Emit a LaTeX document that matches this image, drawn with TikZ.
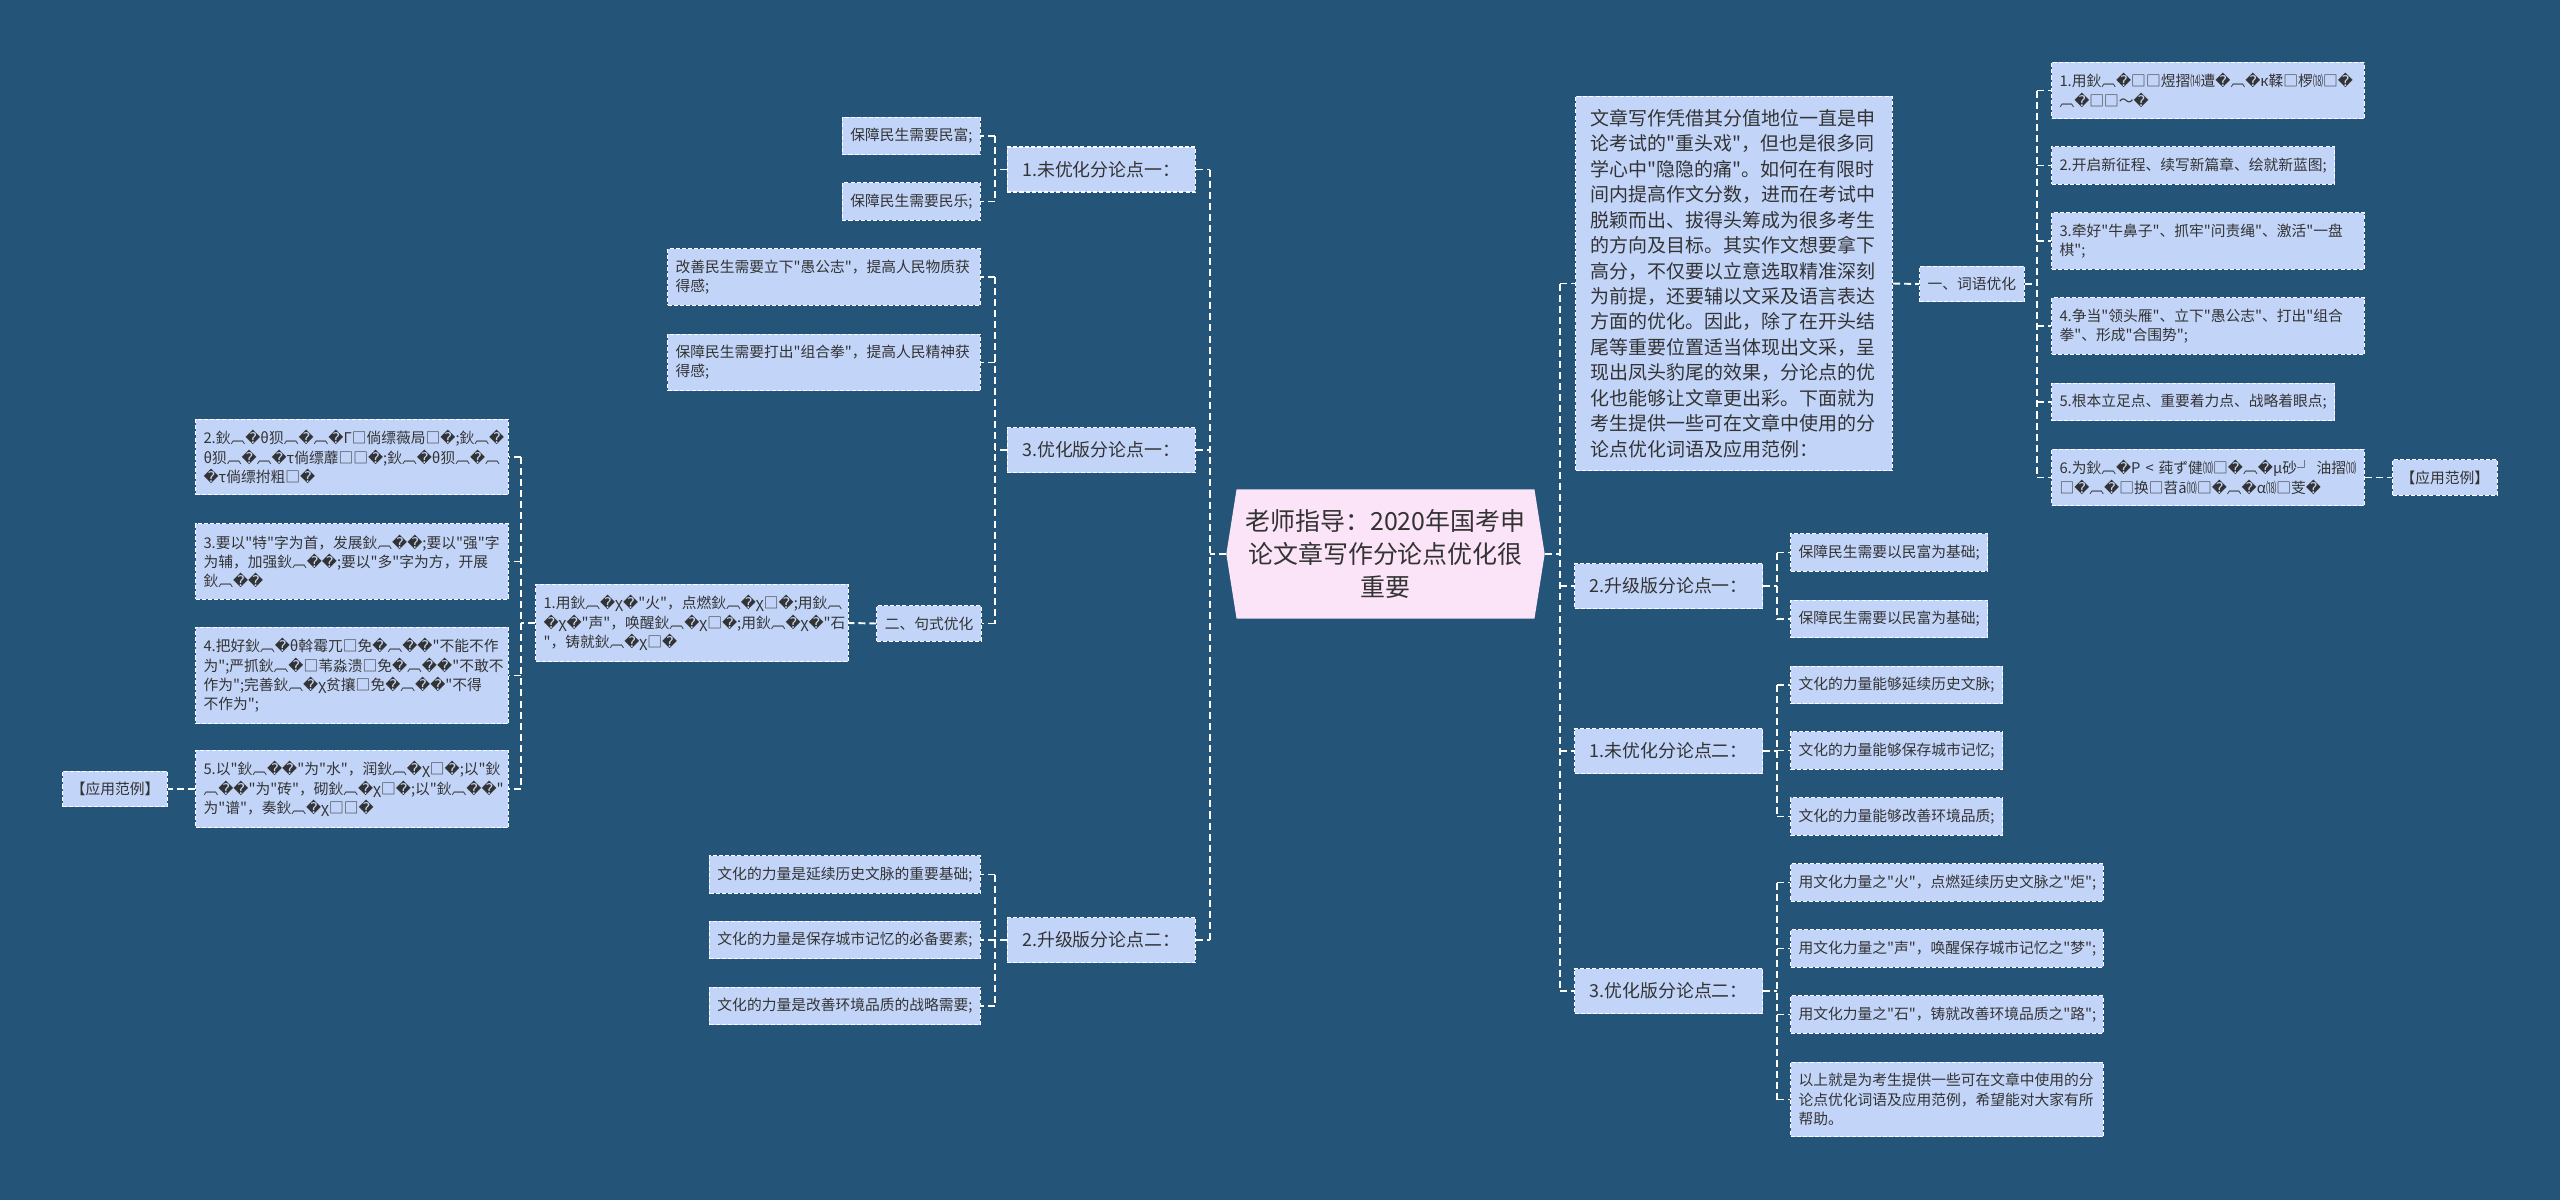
\documentclass[tikz,border=0pt]{standalone}
\usepackage{fontspec}
\usepackage{graphicx}
\newfontfamily\cjkfont{Noto Sans CJK SC}
\newfontfamily\symf{DejaVu Sans}
\usetikzlibrary{shapes.symbols}

\definecolor{bgblue}{HTML}{245579}
\definecolor{boxfill}{HTML}{C2D5F9}
\definecolor{rootfill}{HTML}{FCE4F8}
\definecolor{inktext}{HTML}{333333}

% garbled glyphs as printed in the map
\newcommand{\rp}{{\symf\symbol{"FFFD}}}
\newcommand{\mj}{鈥︹\rp}
\newcommand{\pn}[1]{\scalebox{0.7}[1]{#1}}

\begin{document}
\begin{tikzpicture}[x=0.02cm, y=-0.02cm,
    % Define styles for the boxes and links
    link/.style={draw=white, line width=1.1pt, dash pattern=on 4pt off 2.3pt},
    leaf/.style={draw=white, line width=0.6pt, dash pattern=on 2.3pt off 1.2pt,
        fill=boxfill, text=inktext, font=\cjkfont\fontsize{8.4pt}{11pt}\selectfont,
        inner xsep=0.16cm, inner ysep=0.22cm, align=left},
    leafwide/.style={leaf, text width=5.94cm},
    lvl/.style={leaf, font=\cjkfont\fontsize{10.2pt}{13pt}\selectfont, inner xsep=0.3cm, minimum height=0.9cm},
    parabox/.style={leaf, font=\cjkfont\fontsize{10.8pt}{14.5pt}\selectfont, text width=5.74cm,
        inner xsep=0.3cm, inner ysep=0.25cm},
    rootbox/.style={signal, signal to=west and east, signal pointer angle=162,
        fill=rootfill, text=inktext, font=\cjkfont\fontsize{14.2pt}{18.8pt}\selectfont,
        align=center, inner xsep=0.18cm, inner ysep=0.4cm}
]

    % --- BACKGROUND ---
    \fill[bgblue] (0,0) rectangle (2560,1200);
    \useasboundingbox (0,0) rectangle (2560,1200);

    % --- ROOT ---
    \node[rootbox] (root) at (1385.5,554) {老师指导：2020年国考申\\论文章写作分论点优化很\\重要};

    % --- RIGHT SIDE ---
    \node[parabox, anchor=west] (intro) at (1575,283.5) {文章写作凭借其分值地位一直是申\\论考试的"重头戏"，但也是很多同\\学心中"隐隐的痛"。如何在有限时\\间内提高作文分数，进而在考试中\\脱颖而出、拔得头筹成为很多考生\\的方向及目标。其实作文想要拿下\\高分，不仅要以立意选取精准深刻\\为前提，还要辅以文采及语言表达\\方面的优化。因此，除了在开头结\\尾等重要位置适当体现出文采，呈\\现出凤头豹尾的效果，分论点的优\\化也能够让文章更出彩。下面就为\\考生提供一些可在文章中使用的分\\论点优化词语及应用范例：};
    \node[leaf, anchor=west] (ciyu) at (1919,284) {一、词语优化};
    \node[leafwide, anchor=west] (r1) at (2051,90.5) {1.用\mj{}□□煜摺\pn{⒁}遭\rp{}︹\rp{}к鞣□椤\pn{⒅}□\rp{}\\︹\rp{}□□～\rp{}};
    \node[leaf, anchor=west] (r2) at (2051,165.5) {2.开启新征程、续写新篇章、绘就新蓝图;};
    \node[leafwide, anchor=west] (r3) at (2051,241) {3.牵好"牛鼻子"、抓牢"问责绳"、激活"一盘\\棋";};
    \node[leafwide, anchor=west] (r4) at (2051,326) {4.争当"领头雁"、立下"愚公志"、打出"组合\\拳"、形成"合围势";};
    \node[leaf, anchor=west] (r5) at (2051,402) {5.根本立足点、重要着力点、战略着眼点;};
    \node[leafwide, anchor=west] (r6) at (2051,477.5) {6.为\mj{}P~<~莼ず健\pn{⑽}□\rp{}︹\rp{}μ砂┘~油摺\pn{⑽}\\□\rp{}︹\rp{}□换□苕ā\pn{⑽}□\rp{}︹\rp{}α\pn{⒅}□芰\rp{}};
    \node[leaf, anchor=west] (fanliR) at (2392,477.5) {【应用范例】};

    \node[lvl, anchor=west] (up1) at (1574,586) {2.升级版分论点一：};
    \node[leaf, anchor=west] (up1a) at (1790,552.5) {保障民生需要以民富为基础;};
    \node[leaf, anchor=west] (up1b) at (1790,619) {保障民生需要以民富为基础;};

    \node[lvl, anchor=west] (raw2) at (1574,751) {1.未优化分论点二：};
    \node[leaf, anchor=west] (raw2a) at (1790,685) {文化的力量能够延续历史文脉;};
    \node[leaf, anchor=west] (raw2b) at (1790,750.5) {文化的力量能够保存城市记忆;};
    \node[leaf, anchor=west] (raw2c) at (1790,816.5) {文化的力量能够改善环境品质;};

    \node[lvl, anchor=west] (opt2) at (1574,991) {3.优化版分论点二：};
    \node[leafwide, anchor=west] (opt2a) at (1790,882.5) {用文化力量之"火"，点燃延续历史文脉之"炬";};
    \node[leafwide, anchor=west] (opt2b) at (1790,948.5) {用文化力量之"声"，唤醒保存城市记忆之"梦";};
    \node[leafwide, anchor=west] (opt2c) at (1790,1014.5) {用文化力量之"石"，铸就改善环境品质之"路";};
    \node[leafwide, anchor=west] (opt2d) at (1790,1099.5) {以上就是为考生提供一些可在文章中使用的分\\论点优化词语及应用范例，希望能对大家有所\\帮助。};

    % --- LEFT SIDE ---
    \node[lvl, anchor=east] (raw1) at (1196,169.5) {1.未优化分论点一：};
    \node[leaf, anchor=east] (raw1a) at (981,136) {保障民生需要民富;};
    \node[leaf, anchor=east] (raw1b) at (981,201.5) {保障民生需要民乐;};

    \node[lvl, anchor=east] (opt1) at (1196,450) {3.优化版分论点一：};
    \node[leafwide, anchor=east] (opt1a) at (981,277) {改善民生需要立下"愚公志"，提高人民物质获\\得感;};
    \node[leafwide, anchor=east] (opt1b) at (981,362.5) {保障民生需要打出"组合拳"，提高人民精神获\\得感;};
    \node[leaf, anchor=east] (jushi) at (982,623.5) {二、句式优化};
    \node[leafwide, anchor=east] (js1) at (849,623) {1.用\mj{}χ\rp{}"火"，点燃\mj{}χ□\rp{};用鈥︹\\\rp{}χ\rp{}"声"，唤醒\mj{}χ□\rp{};用\mj{}χ\rp{}"石\\"，铸就\mj{}χ□\rp{}};
    \node[leafwide, anchor=east] (js2) at (509,457) {2.\mj{}θ狈︹\rp{}︹\rp{}Г□倘缥薇局□\rp{};\mj{}\\θ狈︹\rp{}︹\rp{}τ倘缥蘼□□\rp{};\mj{}θ狈︹\rp{}︹\\\rp{}τ倘缥拊粗□\rp{}};
    \node[leafwide, anchor=east] (js3) at (509,561.5) {3.要以"特"字为首，发展\mj{}\rp{};要以"强"字\\为辅，加强\mj{}\rp{};要以"多"字为方，开展\\\mj{}\rp{}};
    \node[leafwide, anchor=east] (js4) at (509,675.5) {4.把好\mj{}θ斡霉兀□免\rp{}︹\rp{}\rp{}"不能不作\\为";严抓\mj{}□苇淼溃□免\rp{}︹\rp{}\rp{}"不敢不\\作为";完善\mj{}χ贫攘□免\rp{}︹\rp{}\rp{}"不得\\不作为";};
    \node[leafwide, anchor=east] (js5) at (509,789) {5.以"\mj{}\rp{}"为"水"，润\mj{}χ□\rp{};以"鈥\\︹\rp{}\rp{}"为"砖"，砌\mj{}χ□\rp{};以"\mj{}\rp{}"\\为"谱"，奏\mj{}χ□□\rp{}};
    \node[leaf, anchor=east] (fanliL) at (168,789) {【应用范例】};

    \node[lvl, anchor=east] (up2) at (1196,940) {2.升级版分论点二：};
    \node[leaf, anchor=east] (up2a) at (981,874.5) {文化的力量是延续历史文脉的重要基础;};
    \node[leaf, anchor=east] (up2b) at (981,940) {文化的力量是保存城市记忆的必备要素;};
    \node[leaf, anchor=east] (up2c) at (981,1006) {文化的力量是改善环境品质的战略需要;};

    % --- LINKS ---
    \coordinate (trunkR) at (1560,0);
    \coordinate (trunkL) at (1210,0);
    \coordinate (busCY) at (2037,0);
    \coordinate (busR) at (1777,0);
    \coordinate (busL) at (995,0);
    \coordinate (busJS) at (521,0);

    % root to the right branches
    \draw[link] (root.east) -- (root.east -| trunkR);
    \draw[link] (intro.west -| trunkR) -- (opt2.west -| trunkR);
    \foreach \n in {intro,up1,raw2,opt2}
        \draw[link] (\n.west -| trunkR) -- (\n.west);

    \draw[link] (intro.east) -- (ciyu.west);
    \draw[link] (ciyu.east) -- (ciyu.east -| busCY);
    \draw[link] (r1.west -| busCY) -- (r6.west -| busCY);
    \foreach \n in {r1,r2,r3,r4,r5,r6}
        \draw[link] (\n.west -| busCY) -- (\n.west);
    \draw[link] (r6.east) -- (fanliR.west);

    \draw[link] (up1.east) -- (up1.east -| busR);
    \draw[link] (up1a.west -| busR) -- (up1b.west -| busR);
    \draw[link] (raw2.east) -- (raw2.east -| busR);
    \draw[link] (raw2a.west -| busR) -- (raw2c.west -| busR);
    \draw[link] (opt2.east) -- (opt2.east -| busR);
    \draw[link] (opt2a.west -| busR) -- (opt2d.west -| busR);
    \foreach \n in {up1a,up1b,raw2a,raw2b,raw2c,opt2a,opt2b,opt2c,opt2d}
        \draw[link] (\n.west -| busR) -- (\n.west);

    % root to the left branches
    \draw[link] (root.west) -- (root.west -| trunkL);
    \draw[link] (raw1.east -| trunkL) -- (up2.east -| trunkL);
    \foreach \n in {raw1,opt1,up2}
        \draw[link] (\n.east) -- (\n.east -| trunkL);

    \draw[link] (raw1.west) -- (raw1.west -| busL);
    \draw[link] (raw1a.east -| busL) -- (raw1b.east -| busL);
    \draw[link] (opt1.west) -- (opt1.west -| busL);
    \draw[link] (opt1a.east -| busL) -- (jushi.east -| busL);
    \draw[link] (up2.west) -- (up2.west -| busL);
    \draw[link] (up2a.east -| busL) -- (up2c.east -| busL);
    \foreach \n in {raw1a,raw1b,opt1a,opt1b,jushi,up2a,up2b,up2c}
        \draw[link] (\n.east -| busL) -- (\n.east);

    \draw[link] (jushi.west) -- (js1.east);
    \draw[link] (js1.west) -- (js1.west -| busJS);
    \draw[link] (js2.east -| busJS) -- (js5.east -| busJS);
    \foreach \n in {js2,js3,js4,js5}
        \draw[link] (\n.east -| busJS) -- (\n.east);
    \draw[link] (js5.west) -- (fanliL.east);

\end{tikzpicture}
\end{document}
